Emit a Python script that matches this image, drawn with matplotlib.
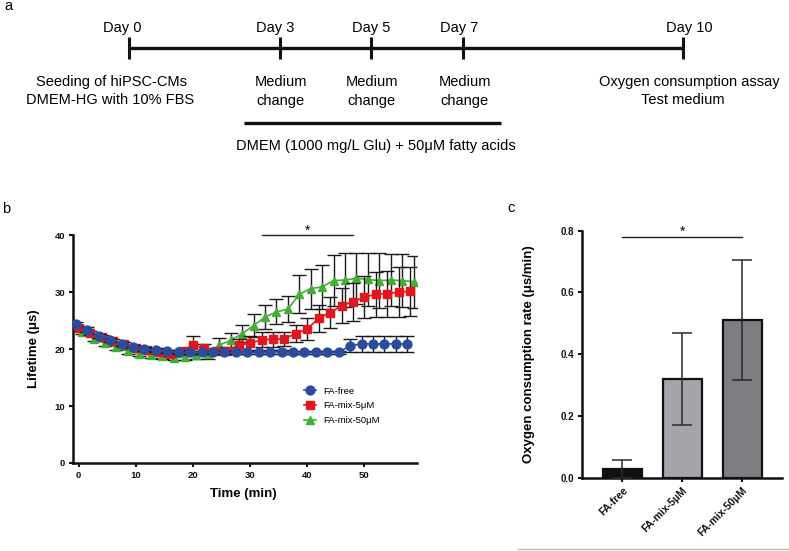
import matplotlib
matplotlib.use('Agg')
import numpy as np
import matplotlib.pyplot as plt

plt.rcParams['font.family'] = ['Liberation Sans', 'DejaVu Sans']

# ---------------- data ----------------
day_labels = ['Day 0', 'Day 3', 'Day 5', 'Day 7', 'Day 10']
seed_text = ['Seeding of hiPSC-CMs', 'DMEM-HG with 10% FBS']
assay_text = ['Oxygen consumption assay', 'Test medium']
medium_text = ['Medium', 'change']
fa_text = 'DMEM (1000 mg/L Glu) + 50\u03bcM fatty acids'

time_min = list(range(0, 60, 2))
fa_free = [24.4, 23.4, 22.3, 21.6, 20.9, 20.4, 20.0, 19.8, 19.6, 19.5,
           19.4, 19.4, 19.4, 19.4, 19.4, 19.4, 19.4, 19.5, 19.5, 19.4,
           19.4, 19.4, 19.4, 19.4, 20.6, 20.9, 20.9, 20.9, 20.9, 20.9]
fa_free_sd = [0.4, 0.4, 0.4, 0.3, 0.3, 0.3, 0.3, 0.3, 0.3, 0.3,
              0.3, 0.3, 0.3, 0.3, 0.3, 0.3, 0.3, 0.3, 0.3, 0.3,
              0.3, 0.3, 0.3, 0.3, 1.1, 1.35, 1.35, 1.35, 1.35, 1.35]
fa_mix5 = [23.6, 22.8, 22.1, 21.4, 20.8, 20.2, 19.8, 19.5, 19.2, 19.7,
           20.7, 20.1, 19.7, 19.7, 20.7, 21.0, 21.6, 21.7, 21.8, 22.7,
           23.5, 25.4, 26.4, 27.6, 28.3, 29.1, 29.6, 29.7, 30.0, 30.1]
fa_mix5_sd = [0.4, 0.4, 0.4, 0.4, 0.4, 0.4, 0.4, 0.4, 0.4, 0.5,
              1.5, 0.8, 0.5, 0.6, 1.0, 1.2, 1.3, 1.3, 1.2, 1.5,
              1.9, 2.4, 2.7, 3.1, 3.3, 3.7, 3.9, 4.0, 4.4, 4.3]
fa_mix50 = [23.0, 21.8, 21.0, 20.3, 19.6, 19.2, 18.9, 18.7, 18.4, 18.6,
            18.9, 19.1, 20.7, 21.5, 22.7, 24.1, 25.6, 26.5, 27.0, 29.6,
            30.6, 30.9, 32.0, 32.1, 32.4, 32.2, 32.0, 32.1, 32.0, 31.8]
fa_mix50_sd = [0.4, 0.4, 0.4, 0.4, 0.4, 0.4, 0.4, 0.4, 0.4, 0.5,
               0.6, 0.8, 1.2, 1.3, 1.5, 2.0, 2.1, 2.2, 2.3, 3.3,
               3.5, 3.9, 4.5, 4.7, 4.5, 4.7, 4.8, 4.6, 4.6, 4.6]
series_names = ['FA-free', 'FA-mix-5\u03bcM', 'FA-mix-50\u03bcM']

bar_groups = ['FA-free', 'FA-mix-5\u03bcM', 'FA-mix-50\u03bcM']
ocr_mean = [0.028, 0.320, 0.510]
ocr_sd = [0.028, 0.150, 0.195]

# ---------------- figure ----------------
W, H = 789, 551
fig = plt.figure(figsize=(W / 100, H / 100), dpi=100)

# panel a (schematic, pixel layout)
ax_a = fig.add_axes([0, 0, 1, 1], zorder=-1)
ax_a.set_xlim(0, W)
ax_a.set_ylim(H, 0)
ax_a.axis('off')
ink = '#111111'
tick_x = [128.8, 279.8, 371.4, 463.0, 683.4]
label_x = [122.5, 275.5, 370.7, 458.7, 689.0]
ax_a.plot([tick_x[0], tick_x[-1]], [47.7, 47.7], color=ink, lw=2.4,
          solid_capstyle='butt')
for x in tick_x:
    ax_a.plot([x, x], [37, 59], color=ink, lw=2.2, solid_capstyle='butt')
for x, lab in zip(label_x, day_labels):
    ax_a.text(x, 31.7, lab, ha='center', va='baseline', fontsize=10.5)
fs_a = 10.5
ax_a.text(111.2, 86, seed_text[0], ha='center', va='baseline', fontsize=fs_a)
ax_a.text(110.2, 104.5, seed_text[1], ha='center', va='baseline', fontsize=fs_a)
for x in [281.5, 372.0, 465.0]:
    ax_a.text(x, 86, medium_text[0], ha='center', va='baseline', fontsize=fs_a)
    ax_a.text(x - 1, 104.5, medium_text[1], ha='center', va='baseline', fontsize=fs_a)
ax_a.text(689.5, 86, assay_text[0], ha='center', va='baseline', fontsize=fs_a)
ax_a.text(682.4, 104.5, assay_text[1], ha='center', va='baseline', fontsize=fs_a)
ax_a.plot([244, 500.8], [123.3, 123.3], color=ink, lw=2.4, solid_capstyle='butt')
ax_a.text(376.2, 150, fa_text, ha='center', va='baseline', fontsize=fs_a)

ax_a.text(4, 10, 'a', ha='left', va='baseline', fontsize=10.5)
ax_a.text(2, 213.3, 'b', ha='left', va='baseline', fontsize=10.5)
ax_a.text(507, 211.7, 'c', ha='left', va='baseline', fontsize=10.5)
ax_a.plot([518, 789], [549.3, 549.3], color='#bbbbbb', lw=1.0)

# panel b
ax_b = fig.add_axes([73 / W, 1 - 463 / H, (417 - 73) / W, (463 - 235) / H])
ax_b.set_xlim(-1, 59.2)
ax_b.set_ylim(0, 40)
for s in ['top', 'right']:
    ax_b.spines[s].set_visible(False)
for s in ['left', 'bottom']:
    ax_b.spines[s].set_linewidth(1.8)
    ax_b.spines[s].set_color(ink)
ax_b.set_xticks([0, 10, 20, 30, 40, 50])
ax_b.set_yticks([0, 10, 20, 30, 40])
ax_b.tick_params(length=3, width=1.5, labelsize=6.8, pad=2.5, colors=ink)
for lab in ax_b.get_xticklabels() + ax_b.get_yticklabels():
    lab.set_fontweight('bold')

colors = ['#2b4c9e', '#e3161d', '#43ad36']
markers = ['o', 's', '^']
msizes = [6.4, 5.8, 6.4]
dodge = [-0.5, 0.0, 0.6]
means = [fa_free, fa_mix5, fa_mix50]
sds = [fa_free_sd, fa_mix5_sd, fa_mix50_sd]
zbase = [5, 4, 3]
handles = []
t = np.array(time_min, dtype=float)
for name, m, sd, c, mk, ms, dx, z in zip(series_names, means, sds, colors,
                                          markers, msizes, dodge, zbase):
    ax_b.errorbar(t + dx, m, yerr=sd, fmt='none', ecolor='#1a1a1a',
                  elinewidth=1.0, capsize=5, capthick=1.0, zorder=z)
    ln, = ax_b.plot(t + dx, m, color=c, lw=1.2, marker=mk, ms=ms, mec=c,
                    mfc=c, zorder=z + 0.5, label=name)
    handles.append(ln)
ax_b.legend(handles=handles, loc='upper left', bbox_to_anchor=(0.6715, 0.335),
            frameon=False, fontsize=6.8, handlelength=1.3, handletextpad=0.7,
            borderpad=0, borderaxespad=0, labelspacing=0.62, numpoints=1)
ax_b.plot([32, 48], [40, 40], color='#222222', lw=1.0, clip_on=False)
ax_b.text(40, 40.1, '*', ha='center', va='baseline', fontsize=10, clip_on=False)
ax_b.set_xlabel('Time (min)', fontsize=9.5, fontweight='bold')
ax_b.set_ylabel('Lifetime (\u03bcs)', fontsize=9.5, fontweight='bold')
ax_b.xaxis.set_label_coords((243 - 73) / 344, -(488 - 463) / 228)
ax_b.yaxis.set_label_coords((40 - 73) / 344, 0.5)

# panel c
ax_c = fig.add_axes([581.7 / W, 1 - 477.7 / H, 200 / W, 247 / H])
xb = np.arange(len(bar_groups))
ax_c.bar(xb, ocr_mean, width=0.65, color=['#111111', '#a5a4ab', '#7e7d82'],
         edgecolor=ink, linewidth=1.6, zorder=2)
ax_c.errorbar(xb, ocr_mean, yerr=ocr_sd, fmt='none', ecolor='#2a2a2a',
              elinewidth=1.1, capsize=7, capthick=1.1, zorder=3)
ax_c.set_xlim(-0.68, 2.66)
ax_c.set_ylim(0, 0.8)
for s in ['top', 'right']:
    ax_c.spines[s].set_visible(False)
for s in ['left', 'bottom']:
    ax_c.spines[s].set_linewidth(1.8)
    ax_c.spines[s].set_color(ink)
ax_c.set_yticks([0, 0.2, 0.4, 0.6, 0.8])
ax_c.set_yticklabels(['0.0', '0.2', '0.4', '0.6', '0.8'])
ax_c.set_xticks(xb)
ax_c.set_xticklabels(bar_groups, rotation=45, ha='right', va='top',
                     rotation_mode='anchor')
ax_c.tick_params(length=3, width=1.5, labelsize=7, pad=2.5, colors=ink)
ax_c.tick_params(axis='x', labelsize=7.5)
for lab in ax_c.get_xticklabels() + ax_c.get_yticklabels():
    lab.set_fontweight('bold')
ax_c.plot([0, 2], [0.78, 0.78], color='#222222', lw=1.0, clip_on=False)
ax_c.text(1, 0.782, '*', ha='center', va='baseline', fontsize=10, clip_on=False)
ax_c.set_ylabel('Oxygen consumption rate (\u03bcs/min)', fontsize=9.5,
                fontweight='bold')
ax_c.yaxis.set_label_coords((535 - 581.7) / 200, 0.5)

fig.savefig('out.png', dpi=100)
